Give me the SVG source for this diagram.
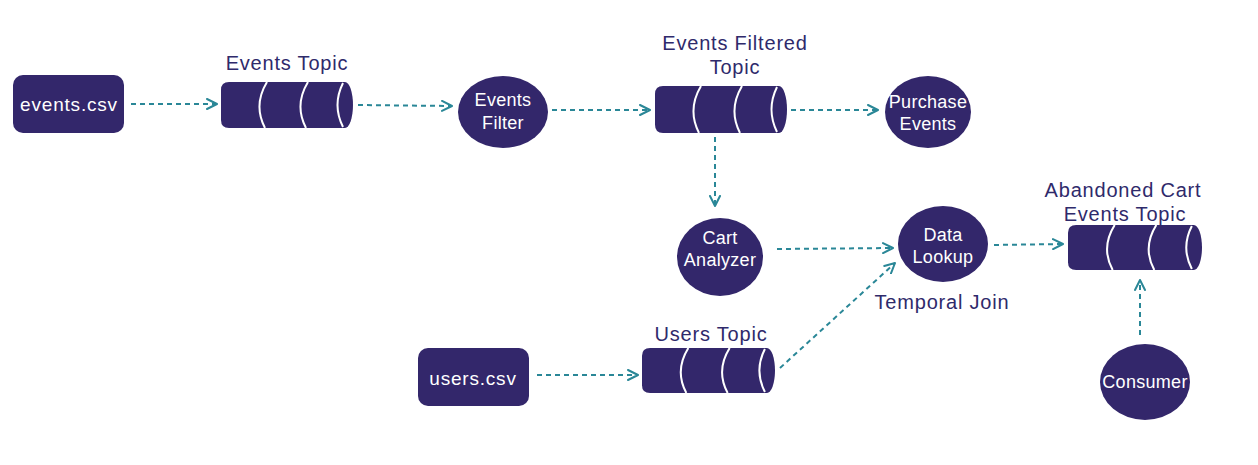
<svg xmlns="http://www.w3.org/2000/svg" width="1258" height="465" viewBox="0 0 1258 465">
<style>
.node{fill:#33276b;}
.nt{fill:#ffffff;font-family:"Liberation Sans",Arial,sans-serif;font-size:18px;text-anchor:middle;dominant-baseline:central;letter-spacing:0.3px;}
.big{font-size:19px;letter-spacing:0.8px;}
.lbl{fill:#2f2a6b;font-family:"Liberation Sans",Arial,sans-serif;font-size:20px;text-anchor:middle;dominant-baseline:central;letter-spacing:0.8px;}
.edge{fill:none;stroke:#2a8797;stroke-width:2;stroke-dasharray:5 4;marker-end:url(#arr);}
.seg{fill:none;stroke:#ffffff;stroke-width:2;}
</style>
<defs>
<marker id="arr" viewBox="0 0 12 12" refX="11" refY="6" markerWidth="12" markerHeight="12" markerUnits="userSpaceOnUse" orient="auto">
<path d="M1,1 L11,6 L1,11" fill="none" stroke="#2a8797" stroke-width="2" stroke-linejoin="round" stroke-linecap="round"/>
</marker>
<symbol id="cyl" viewBox="0 0 132 46" preserveAspectRatio="none">
<path class="node" d="M8,0 H124 A8,23 0 0 1 124,46 H8 Q0,46 0,38 V8 Q0,0 8,0 Z"/>
<path class="seg" d="M46,0 Q32,23 44,46"/>
<path class="seg" d="M87,0 Q73,23 85,46"/>
<path class="seg" d="M122,1 Q111,23 122,45"/>
</symbol>
</defs>

<g id="connectors">
<line class="edge" x1="131" y1="104" x2="217" y2="104"/>
<line class="edge" x1="358" y1="105" x2="452" y2="106"/>
<line class="edge" x1="552" y1="110" x2="650" y2="110"/>
<line class="edge" x1="791" y1="110" x2="878" y2="110"/>
<line class="edge" x1="715" y1="137" x2="715" y2="206"/>
<line class="edge" x1="777" y1="249" x2="893" y2="248"/>
<line class="edge" x1="537" y1="375" x2="638" y2="375"/>
<line class="edge" x1="780" y1="368" x2="895" y2="263"/>
<line class="edge" x1="994" y1="245" x2="1063" y2="244"/>
<line class="edge" x1="1140" y1="335" x2="1140" y2="280"/>
</g>

<g id="events-csv">
<rect class="node" x="13" y="75" width="111" height="58" rx="10"/>
<text class="nt big" x="69" y="104">events.csv</text>
</g>

<g id="events-topic">
<use href="#cyl" x="221" y="82" width="132" height="46"/>
<text class="lbl" x="287" y="63">Events Topic</text>
</g>

<g id="events-filter">
<ellipse class="node" cx="503" cy="112" rx="45" ry="36"/>
<text class="nt" x="503" y="100">Events</text>
<text class="nt" x="503" y="123">Filter</text>
</g>

<g id="events-filtered-topic">
<use href="#cyl" x="655" y="86" width="132" height="47"/>
<text class="lbl" x="735" y="43">Events Filtered</text>
<text class="lbl" x="735" y="67">Topic</text>
</g>

<g id="purchase-events">
<ellipse class="node" cx="928" cy="112" rx="43" ry="36"/>
<text class="nt" x="928" y="102">Purchase</text>
<text class="nt" x="928" y="124">Events</text>
</g>

<g id="cart-analyzer">
<ellipse class="node" cx="720" cy="257" rx="43" ry="39"/>
<text class="nt" x="720" y="238">Cart</text>
<text class="nt" x="720" y="260">Analyzer</text>
</g>

<g id="data-lookup">
<ellipse class="node" cx="943" cy="244" rx="45" ry="38"/>
<text class="nt" x="943" y="235">Data</text>
<text class="nt" x="943" y="257">Lookup</text>
</g>
<text class="lbl" x="942" y="302">Temporal Join</text>

<g id="abandoned-cart-topic">
<use href="#cyl" x="1068" y="225" width="134" height="45"/>
<text class="lbl" x="1123" y="190">Abandoned Cart</text>
<text class="lbl" x="1125" y="214">Events Topic</text>
</g>

<g id="users-csv">
<rect class="node" x="418" y="348" width="111" height="58" rx="10"/>
<text class="nt big" x="473" y="378">users.csv</text>
</g>

<g id="users-topic">
<use href="#cyl" x="642" y="348" width="133" height="45"/>
<text class="lbl" x="711" y="334">Users Topic</text>
</g>

<g id="consumer">
<ellipse class="node" cx="1145" cy="382" rx="45" ry="38"/>
<text class="nt" x="1145" y="382">Consumer</text>
</g>
</svg>
